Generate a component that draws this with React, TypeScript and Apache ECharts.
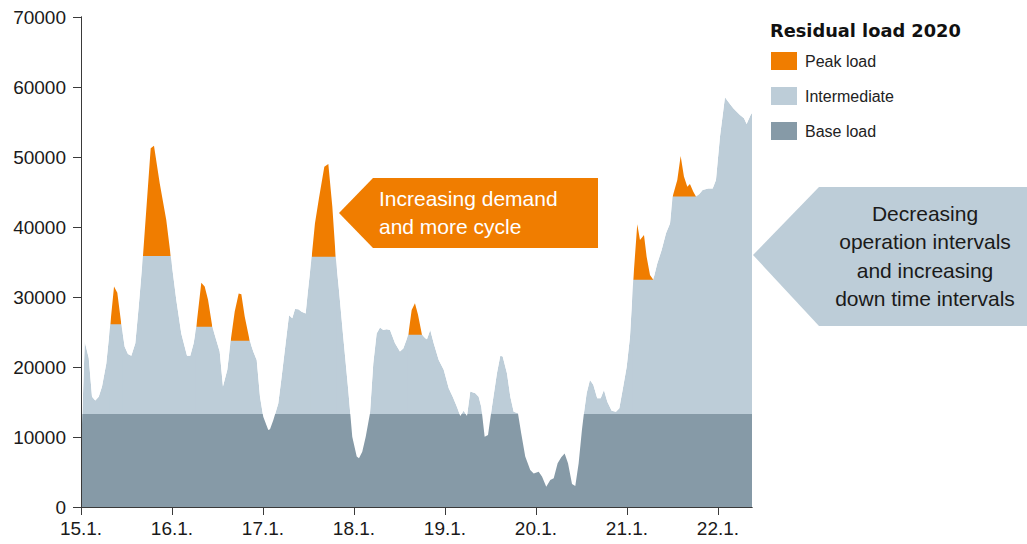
import React, { useEffect, useRef } from "react";
import * as echarts from "echarts";

// time in days after 15.1. 00:00
const days = [
  0, 0.041, 0.085, 0.121, 0.157, 0.195, 0.231, 0.278, 0.322, 0.363,
  0.399, 0.443, 0.48, 0.516, 0.553, 0.597, 0.634, 0.681, 0.766, 0.802,
  0.865, 0.937, 0.986, 1.047, 1.102, 1.165, 1.201, 1.238, 1.267, 1.322,
  1.359, 1.396, 1.443, 1.524, 1.56, 1.608, 1.645, 1.689, 1.733, 1.762,
  1.799, 1.854, 1.893, 1.931, 1.967, 2.003, 2.058, 2.077, 2.113, 2.168,
  2.205, 2.249, 2.286, 2.322, 2.352, 2.388, 2.425, 2.469, 2.491, 2.535,
  2.571, 2.615, 2.674, 2.718, 2.762, 2.799, 2.835, 2.882, 2.937, 2.981,
  3.03, 3.055, 3.091, 3.129, 3.176, 3.212, 3.249, 3.286, 3.322, 3.359,
  3.396, 3.451, 3.505, 3.542, 3.597, 3.634, 3.67, 3.703, 3.747, 3.784,
  3.802, 3.838, 3.876, 3.931, 3.986, 4.041, 4.085, 4.132, 4.168, 4.205,
  4.242, 4.278, 4.333, 4.37, 4.399, 4.436, 4.473, 4.516, 4.571, 4.608,
  4.634, 4.681, 4.718, 4.755, 4.802, 4.838, 4.882, 4.937, 4.975, 5.03,
  5.066, 5.113, 5.157, 5.195, 5.238, 5.278, 5.315, 5.352, 5.396, 5.432,
  5.469, 5.505, 5.527, 5.557, 5.593, 5.63, 5.673, 5.711, 5.747, 5.784,
  5.832, 5.879, 5.916, 5.959, 5.997, 6.033, 6.069, 6.113, 6.143, 6.187,
  6.216, 6.253, 6.289, 6.333, 6.381, 6.429, 6.473, 6.502, 6.553, 6.59,
  6.626, 6.663, 6.692, 6.729, 6.758, 6.795, 6.832, 6.893, 6.942, 6.978,
  7.022, 7.077, 7.113, 7.168, 7.242, 7.286, 7.315, 7.359, 7.374,
];

// residual load (MW)
const load = [
  7500, 23600, 21300, 15750, 15200, 15750, 17200, 20500, 26100, 31500,
  30600, 26100, 22900, 21850, 21600, 23400, 28600, 35850, 51250, 51600,
  46250, 41000, 35850, 29600, 24800, 21600, 21600, 23400, 25750, 32050,
  31500, 29600, 25750, 22200, 17200, 19600, 23750, 27900, 30500, 30400,
  27200, 23750, 22200, 21000, 15750, 12900, 11000, 11100, 12400, 14800,
  18600, 23400, 27400, 26950, 28300, 28250, 27900, 27650, 30500, 35750,
  40500, 44100, 48600, 49000, 42900, 35750, 31000, 24300, 16700, 10050,
  7200, 6950, 7900, 10050, 13400, 20500, 24800, 25650, 25300, 25400,
  25300, 23400, 22200, 22650, 24600, 28150, 29100, 27500, 24600, 24100,
  23950, 25300, 23400, 21000, 19600, 16950, 15750, 14300, 13000, 13750,
  13000, 16500, 16250, 15750, 14300, 10050, 10300, 14300, 19100, 21600,
  21500, 19100, 15750, 13600, 13400, 10500, 7200, 5300, 4800, 5050,
  4350, 2900, 3850, 4100, 6250, 7100, 7650, 6250, 3300, 3000,
  6250, 11000, 13400, 16250, 18150, 17450, 15550, 15550, 16700, 15050,
  13750, 13600, 14100, 17200, 20050, 24300, 32450, 40400, 38150, 38850,
  35750, 33150, 32450, 34800, 36700, 39100, 40500, 44350, 46700, 50150,
  47200, 45750, 46150, 45050, 44350, 44700, 45300, 45500, 45500, 46700,
  52900, 58550, 57900, 56950, 56000, 55550, 54700, 56000, 56300,
];

// peak-load periods: start, end (days) and the intermediate cap (MW)
const peakStart = [0.322, 0.681, 1.267, 1.645, 2.535, 3.597, 6.069, 6.502];
const peakEnd = [0.443, 0.986, 1.443, 1.854, 2.799, 3.747, 6.289, 6.758];
const peakCap = [26100, 35850, 25750, 23750, 35750, 24600, 32450, 44350];

const baseLoad = 13300;
const xMax = 7.374;
const yMax = 70000;
const dayTicks = [0, 1, 2, 3, 4, 5, 6, 7];
const dayLabels = ["15.1.", "16.1.", "17.1.", "18.1.", "19.1.", "20.1.", "21.1.", "22.1."];

const ORANGE = "#F07D00";
const LIGHT = "#BDCDD8";
const DARK = "#869AA7";
const FONT = '"Liberation Sans", Arial, Helvetica, sans-serif';
const CAP_PAD = 0.012; // small overlap so the cap band hides the peak band's anti-aliased edges

export default function App() {
  const ref = useRef<HTMLDivElement>(null);

  useEffect(() => {
    if (!ref.current) return;
    const chart = echarts.init(ref.current, undefined, { renderer: "svg" });

    const loadData = days.map((d, i) => [d, load[i]]);
    const noLine = { width: 0, opacity: 0 };

    const series: any[] = [];
    series.push({
      name: "Intermediate",
      type: "line",
      data: loadData,
      showSymbol: false,
      symbol: "none",
      lineStyle: noLine,
      itemStyle: { color: LIGHT },
      areaStyle: { color: LIGHT, opacity: 1 },
      silent: true,
    });
    peakStart.forEach((s, i) => {
      series.push({
        name: "Peak load",
        type: "line",
        data: [
          [s, yMax],
          [peakEnd[i], yMax],
        ],
        symbol: "none",
        lineStyle: noLine,
        itemStyle: { color: ORANGE },
        areaStyle: { color: ORANGE, opacity: 1 },
        silent: true,
      });
      series.push({
        name: "Intermediate",
        type: "line",
        data: [
          [s - CAP_PAD, peakCap[i]],
          [peakEnd[i] + CAP_PAD, peakCap[i]],
        ],
        symbol: "none",
        lineStyle: noLine,
        itemStyle: { color: LIGHT },
        areaStyle: { color: LIGHT, opacity: 1 },
        silent: true,
      });
    });
    series.push({
      name: "Base load",
      type: "line",
      data: [
        [0, baseLoad],
        [xMax, baseLoad],
      ],
      symbol: "none",
      lineStyle: noLine,
      itemStyle: { color: DARK },
      areaStyle: { color: DARK, opacity: 1 },
      silent: true,
    });
    series.push({
      name: "mask",
      type: "line",
      data: loadData,
      symbol: "none",
      lineStyle: noLine,
      itemStyle: { color: "#ffffff" },
      areaStyle: { color: "#ffffff", opacity: 1, origin: "end" },
      silent: true,
    });

    const axisLine = { show: true, lineStyle: { color: "#3a3a3a", width: 1 } };

    chart.setOption({
      animation: false,
      grid: { left: 81, right: 275, top: 17, bottom: 37, containLabel: false },
      title: {
        text: "Residual load 2020",
        left: 770,
        top: 21,
        padding: 0,
        textStyle: {
          fontFamily: '"DejaVu Sans", Verdana, sans-serif',
          fontWeight: "bold",
          fontSize: 17.8,
          color: "#111111",
        },
      },
      legend: {
        left: 771,
        top: 52,
        padding: 0,
        orient: "vertical",
        icon: "rect",
        itemWidth: 26,
        itemHeight: 18,
        itemGap: 17,
        selectedMode: false,
        textStyle: { fontFamily: FONT, fontSize: 16, color: "#222222", padding: [0, 0, 0, 3] },
        data: [
          { name: "Peak load", itemStyle: { color: ORANGE, borderWidth: 0 } },
          { name: "Intermediate", itemStyle: { color: LIGHT, borderWidth: 0 } },
          { name: "Base load", itemStyle: { color: DARK, borderWidth: 0 } },
        ],
      },
      xAxis: [
        {
          type: "value",
          min: 0,
          max: xMax,
          z: 10,
          axisLine,
          axisTick: { show: true, length: 8, customValues: dayTicks, lineStyle: { color: "#3a3a3a" } },
          axisLabel: {
            customValues: dayTicks,
            formatter: (v: number) => dayLabels[Math.round(v)] ?? "",
            fontFamily: FONT,
            fontSize: 19,
            color: "#1a1a1a",
            margin: 12,
          },
          splitLine: { show: false },
        },
        {
          type: "value",
          position: "top",
          min: 0,
          max: xMax,
          z: 10,
          axisLine,
          axisTick: { show: false },
          axisLabel: { show: false },
          splitLine: { show: false },
        },
      ],
      yAxis: [
        {
          type: "value",
          min: 0,
          max: yMax,
          interval: 10000,
          z: 10,
          axisLine,
          axisTick: { show: true, length: 8, lineStyle: { color: "#3a3a3a" } },
          axisLabel: {
            formatter: (v: number) => String(v),
            fontFamily: FONT,
            fontSize: 19,
            color: "#1a1a1a",
            margin: 15,
          },
          splitLine: { show: false },
        },
        {
          type: "value",
          position: "right",
          min: 0,
          max: yMax,
          interval: 10000,
          z: 10,
          axisLine,
          axisTick: { show: false },
          axisLabel: { show: false },
          splitLine: { show: false },
        },
      ],
      series,
      graphic: [
        {
          type: "polygon",
          z: 20,
          shape: {
            points: [
              [339, 213],
              [373, 178],
              [598, 178],
              [598, 248],
              [373, 248],
            ],
          },
          style: { fill: ORANGE },
          silent: true,
        },
        {
          type: "text",
          z: 21,
          x: 379,
          y: 212,
          style: {
            text: "Increasing demand\nand more cycle",
            fill: "#ffffff",
            fontFamily: FONT,
            fontSize: 21,
            lineHeight: 28,
            align: "left",
            verticalAlign: "middle",
          },
          silent: true,
        },
        {
          type: "polygon",
          z: 20,
          shape: {
            points: [
              [753, 255],
              [819, 187],
              [1027, 187],
              [1027, 326],
              [819, 326],
            ],
          },
          style: { fill: LIGHT },
          silent: true,
        },
        {
          type: "text",
          z: 21,
          x: 925,
          y: 256,
          style: {
            text: "Decreasing\noperation intervals\nand increasing\ndown time intervals",
            fill: "#1a1a1a",
            fontFamily: FONT,
            fontSize: 21,
            lineHeight: 28.3,
            align: "center",
            verticalAlign: "middle",
          },
          silent: true,
        },
      ],
    });

    return () => chart.dispose();
  }, []);

  return (
    <div
      ref={ref}
      style={{ position: "fixed", left: 0, top: 0, width: 1027, height: 544, background: "#ffffff" }}
    />
  );
}
